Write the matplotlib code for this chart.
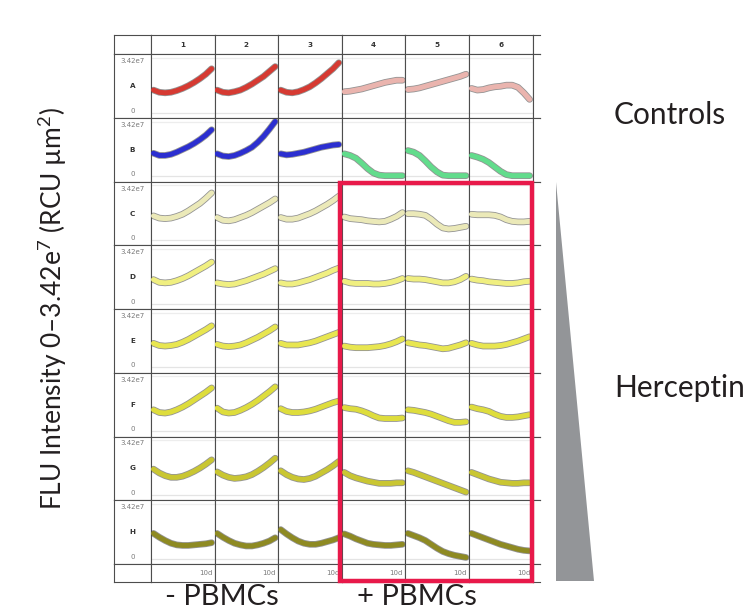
import matplotlib.pyplot as plt
import matplotlib.patheffects as pe
from matplotlib.patches import Rectangle, Polygon

# --- Data: FLU intensity per well, as fraction of the 3.42e7 full scale ---
days = [0, 1, 2, 3, 4, 5, 6, 7, 8, 9, 10]
row_labels = ['A', 'B', 'C', 'D', 'E', 'F', 'G', 'H']
col_labels = ['1', '2', '3', '4', '5', '6']

row_A = [
    [0.41, 0.37, 0.36, 0.37, 0.40, 0.44, 0.49, 0.55, 0.62, 0.70, 0.80],
    [0.41, 0.37, 0.36, 0.38, 0.41, 0.46, 0.52, 0.59, 0.66, 0.75, 0.84],
    [0.41, 0.37, 0.36, 0.38, 0.42, 0.47, 0.54, 0.62, 0.71, 0.80, 0.91],
    [0.38, 0.39, 0.41, 0.43, 0.46, 0.49, 0.52, 0.55, 0.57, 0.59, 0.59],
    [0.42, 0.43, 0.45, 0.48, 0.51, 0.54, 0.57, 0.60, 0.63, 0.66, 0.70],
    [0.44, 0.41, 0.42, 0.45, 0.47, 0.48, 0.50, 0.50, 0.46, 0.36, 0.24],
]
row_B = [
    [0.42, 0.38, 0.38, 0.40, 0.44, 0.49, 0.54, 0.60, 0.67, 0.75, 0.85],
    [0.41, 0.37, 0.36, 0.38, 0.42, 0.47, 0.53, 0.62, 0.73, 0.86, 1.00],
    [0.41, 0.39, 0.40, 0.42, 0.44, 0.47, 0.50, 0.53, 0.55, 0.57, 0.58],
    [0.41, 0.38, 0.33, 0.24, 0.14, 0.06, 0.02, 0.01, 0.01, 0.01, 0.01],
    [0.47, 0.44, 0.38, 0.28, 0.17, 0.08, 0.02, 0.01, 0.01, 0.01, 0.01],
    [0.38, 0.35, 0.31, 0.25, 0.17, 0.09, 0.03, 0.01, 0.01, 0.01, 0.01],
]
row_C = [
    [0.44, 0.40, 0.39, 0.40, 0.43, 0.47, 0.53, 0.60, 0.67, 0.76, 0.86],
    [0.41, 0.36, 0.35, 0.37, 0.41, 0.45, 0.50, 0.56, 0.62, 0.68, 0.75],
    [0.41, 0.38, 0.38, 0.40, 0.44, 0.48, 0.53, 0.59, 0.65, 0.72, 0.80],
    [0.42, 0.39, 0.38, 0.37, 0.35, 0.34, 0.33, 0.34, 0.38, 0.43, 0.50],
    [0.48, 0.48, 0.47, 0.45, 0.38, 0.29, 0.22, 0.20, 0.21, 0.23, 0.25],
    [0.47, 0.46, 0.46, 0.46, 0.45, 0.42, 0.37, 0.34, 0.33, 0.33, 0.34],
]
row_D = [
    [0.44, 0.39, 0.38, 0.39, 0.42, 0.46, 0.51, 0.57, 0.63, 0.69, 0.76],
    [0.38, 0.36, 0.35, 0.36, 0.39, 0.42, 0.46, 0.50, 0.54, 0.59, 0.64],
    [0.38, 0.36, 0.36, 0.38, 0.41, 0.44, 0.48, 0.52, 0.56, 0.61, 0.65],
    [0.41, 0.38, 0.37, 0.37, 0.37, 0.36, 0.36, 0.37, 0.39, 0.42, 0.46],
    [0.46, 0.45, 0.45, 0.44, 0.42, 0.40, 0.38, 0.38, 0.40, 0.44, 0.50],
    [0.45, 0.43, 0.42, 0.40, 0.39, 0.38, 0.37, 0.37, 0.38, 0.40, 0.41],
]
row_E = [
    [0.44, 0.40, 0.39, 0.40, 0.42, 0.46, 0.51, 0.57, 0.63, 0.69, 0.76],
    [0.42, 0.39, 0.38, 0.39, 0.41, 0.45, 0.50, 0.55, 0.61, 0.67, 0.74],
    [0.44, 0.41, 0.41, 0.41, 0.43, 0.45, 0.48, 0.52, 0.56, 0.60, 0.64],
    [0.39, 0.37, 0.36, 0.36, 0.36, 0.37, 0.38, 0.40, 0.43, 0.47, 0.52],
    [0.45, 0.43, 0.41, 0.40, 0.38, 0.36, 0.34, 0.35, 0.38, 0.41, 0.45],
    [0.44, 0.41, 0.39, 0.39, 0.39, 0.40, 0.42, 0.45, 0.48, 0.52, 0.56],
]
row_F = [
    [0.39, 0.34, 0.33, 0.35, 0.39, 0.44, 0.50, 0.57, 0.64, 0.71, 0.79],
    [0.42, 0.35, 0.33, 0.34, 0.38, 0.43, 0.49, 0.56, 0.64, 0.72, 0.81],
    [0.41, 0.36, 0.34, 0.34, 0.35, 0.37, 0.40, 0.44, 0.48, 0.52, 0.55],
    [0.43, 0.41, 0.40, 0.37, 0.33, 0.28, 0.24, 0.23, 0.23, 0.23, 0.24],
    [0.39, 0.38, 0.36, 0.34, 0.31, 0.27, 0.23, 0.19, 0.16, 0.16, 0.17],
    [0.44, 0.41, 0.39, 0.36, 0.31, 0.27, 0.25, 0.25, 0.26, 0.28, 0.30],
]
row_G = [
    [0.47, 0.40, 0.35, 0.32, 0.32, 0.34, 0.38, 0.43, 0.49, 0.56, 0.64],
    [0.42, 0.36, 0.32, 0.30, 0.31, 0.33, 0.37, 0.43, 0.50, 0.58, 0.67],
    [0.44, 0.37, 0.32, 0.29, 0.28, 0.30, 0.34, 0.40, 0.46, 0.53, 0.61],
    [0.41, 0.35, 0.31, 0.28, 0.25, 0.23, 0.21, 0.21, 0.21, 0.22, 0.22],
    [0.44, 0.41, 0.37, 0.33, 0.29, 0.25, 0.21, 0.17, 0.13, 0.09, 0.05],
    [0.41, 0.37, 0.33, 0.29, 0.26, 0.23, 0.22, 0.21, 0.21, 0.22, 0.22],
]
row_H = [
    [0.46, 0.39, 0.33, 0.28, 0.25, 0.24, 0.24, 0.25, 0.26, 0.27, 0.29],
    [0.46, 0.39, 0.33, 0.28, 0.25, 0.23, 0.23, 0.25, 0.28, 0.32, 0.38],
    [0.53, 0.45, 0.38, 0.32, 0.28, 0.26, 0.26, 0.28, 0.31, 0.34, 0.38],
    [0.45, 0.41, 0.36, 0.32, 0.28, 0.26, 0.25, 0.24, 0.24, 0.25, 0.26],
    [0.46, 0.42, 0.38, 0.33, 0.26, 0.19, 0.13, 0.09, 0.06, 0.04, 0.02],
    [0.46, 0.42, 0.38, 0.34, 0.30, 0.26, 0.23, 0.20, 0.17, 0.15, 0.14],
]
plate = [row_A, row_B, row_C, row_D, row_E, row_F, row_G, row_H]

row_colors = [
    ['#d63a32'] * 3 + ['#eab4ae'] * 3,
    ['#2c2fd0'] * 3 + ['#62dc8c'] * 3,
    ['#ebe9b8'] * 6,
    ['#f0ef80'] * 6,
    ['#e8e650'] * 6,
    ['#dedd3c'] * 6,
    ['#c9c632'] * 6,
    ['#8e8a22'] * 6,
]

plt.rcParams['font.family'] = ['Lato', 'DejaVu Sans']
plt.rcParams['mathtext.fontset'] = 'custom'
plt.rcParams['mathtext.rm'] = 'Lato'

# --- Layout (pixels) ---
W, H = 752, 612
GRID_L, LABEL_R = 114, 151
COL_W, ROW_H = 63.6, 63.72
TOP, HEAD_B = 35, 54.3
FOOT_H = 18
EDGE_R = 540
GRID_C = '#4d4d4d'
SMALL = ['DejaVu Sans']

fig = plt.figure(figsize=(W / 100, H / 100), dpi=100)


def px_axes(x0, y0, x1, y1):
    ax = fig.add_axes([x0 / W, 1 - y1 / H, (x1 - x0) / W, (y1 - y0) / H])
    ax.set_xticks([])
    ax.set_yticks([])
    for s in ax.spines.values():
        s.set_color(GRID_C)
        s.set_linewidth(0.8)
    return ax


def open_right(ax):
    ax.spines['right'].set_visible(False)


col_x = [LABEL_R + i * COL_W for i in range(7)]
row_y = [HEAD_B + i * ROW_H for i in range(9)]
foot_b = row_y[-1] + FOOT_H

# header
px_axes(GRID_L, TOP, LABEL_R, HEAD_B)
for j, lab in enumerate(col_labels):
    ax = px_axes(col_x[j], TOP, col_x[j + 1], HEAD_B)
    ax.text(0.5, 0.5, lab, ha='center', va='center', fontsize=5.2,
            fontweight='bold', color='#333333', family=SMALL)
open_right(px_axes(col_x[6], TOP, EDGE_R, HEAD_B))

kx = 10 / (COL_W - 5.5)
ky = 1 / (ROW_H - 9)
for i, (rlab, wells) in enumerate(zip(row_labels, plate)):
    y0, y1 = row_y[i], row_y[i + 1]
    lab_ax = px_axes(GRID_L, y0, LABEL_R, y1)
    lab_ax.text(0.5, 1 - 6.8 / ROW_H, '3.42e7', ha='center', va='center',
                fontsize=5, color='#7a7a7a', family=SMALL)
    lab_ax.text(0.5, 0.5, rlab, ha='center', va='center', fontsize=5.2,
                fontweight='bold', color='#333333', family=SMALL)
    lab_ax.text(0.5, 7.5 / ROW_H, '0', ha='center', va='center',
                fontsize=5, color='#7a7a7a', family=SMALL)
    for j, vals in enumerate(wells):
        ax = px_axes(col_x[j], y0, col_x[j + 1], y1)
        ax.set_xlim(-2.5 * kx, 10 + 3 * kx)
        ax.set_ylim(-5.5 * ky, 1 + 3.5 * ky)
        ax.axhline(0, color='#e4e4e4', lw=0.9, zorder=1)
        ax.axhline(1, color='#ededed', lw=0.9, zorder=1)
        ax.plot(days, vals, color=row_colors[i][j], lw=3.6,
                solid_capstyle='round', solid_joinstyle='round', zorder=3,
                path_effects=[pe.Stroke(linewidth=4.8, foreground='#3c3c3c', alpha=0.55),
                              pe.Normal()])
    open_right(px_axes(col_x[6], y0, EDGE_R, y1))

# footer
px_axes(GRID_L, row_y[-1], LABEL_R, foot_b)
for j in range(6):
    ax = px_axes(col_x[j], row_y[-1], col_x[j + 1], foot_b)
    ax.text(1 - 2.5 / COL_W, 0.5, '10d', ha='right', va='center',
            fontsize=5, color='#7a7a7a', family=SMALL)
open_right(px_axes(col_x[6], row_y[-1], EDGE_R, foot_b))

# --- Annotations overlay ---
ov = fig.add_axes([0, 0, 1, 1], zorder=10)
ov.set_xlim(0, W)
ov.set_ylim(H, 0)
ov.axis('off')
ov.patch.set_alpha(0)

ov.add_patch(Rectangle((340, 183), 191.5, 397.5, fill=False,
                       edgecolor='#e8194a', linewidth=3.2))
ov.add_patch(Polygon([(556, 182), (556, 581), (594, 581)], closed=True,
                     facecolor='#939598', edgecolor='none'))

txt_c = '#231f20'
ov.text(52, 308, 'FLU Intensity 0\u20133.42e$^{7}$ (RCU \u00b5m$^{2}$)', rotation=90,
        ha='center', va='center', fontsize=19, color=txt_c)
ov.text(614, 115, 'Controls', ha='left', va='center', fontsize=21.5, color=txt_c)
ov.text(614, 388, 'Herceptin', ha='left', va='center', fontsize=21.5, color=txt_c)
ov.text(165, 605, '- PBMCs', ha='left', va='baseline', fontsize=21, color=txt_c)
ov.text(357, 605, '+ PBMCs', ha='left', va='baseline', fontsize=21, color=txt_c)

fig.savefig('out.png', dpi=100)
